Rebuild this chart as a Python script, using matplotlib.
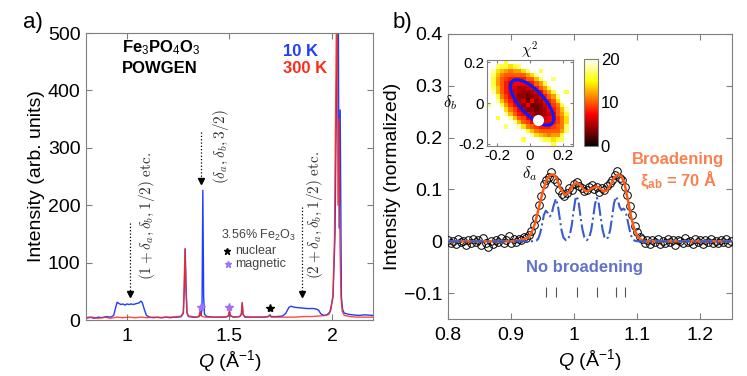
import numpy as np
import matplotlib.pyplot as plt
from matplotlib.patches import Ellipse
from matplotlib.ticker import FuncFormatter

plt.rcParams['font.family'] = ['Liberation Sans', 'DejaVu Sans']
plt.rcParams['mathtext.fontset'] = 'custom'
plt.rcParams['mathtext.rm'] = 'Liberation Sans'
plt.rcParams['mathtext.it'] = 'Liberation Sans:italic'
plt.rcParams['mathtext.bf'] = 'Liberation Sans:bold'

# ---- panel a: POWGEN patterns (Q, intensity) ----
q_10k = [0.80, 0.82, 0.84, 0.86, 0.88, 0.90, 0.92, 0.935, 0.945, 0.952, 0.96, 0.97, 0.98,
         0.99, 1.00, 1.01, 1.02, 1.03, 1.04, 1.05, 1.06, 1.068, 1.075, 1.085, 1.095, 1.11,
         1.13, 1.15, 1.17, 1.19, 1.21, 1.23, 1.25, 1.265, 1.275, 1.280, 1.284, 1.288, 1.293,
         1.30, 1.32, 1.34, 1.352, 1.357, 1.361, 1.366, 1.370, 1.374, 1.378, 1.39, 1.42, 1.45,
         1.48, 1.495, 1.50, 1.505, 1.52, 1.55, 1.558, 1.562, 1.566, 1.575, 1.60, 1.63, 1.66,
         1.69, 1.698, 1.703, 1.73, 1.76, 1.775, 1.79, 1.80, 1.82, 1.85, 1.88, 1.91, 1.925,
         1.935, 1.945, 1.96, 1.975, 1.99, 2.005, 2.015, 2.022, 2.030, 2.035, 2.040, 2.046,
         2.052, 2.06, 2.08, 2.10, 2.13, 2.16, 2.20]
i_10k = [4, 5, 3, 5, 4, 6, 5, 8, 22, 31, 29, 27, 28,
         26, 28, 27, 28, 27, 28, 29, 30, 33, 30, 18, 8, 5,
         4, 5, 4, 5, 4, 5, 5, 6, 12, 60, 124, 60, 12,
         6, 5, 5, 6, 14, 8, 20, 226, 40, 10, 6, 5, 5,
         5, 7, 15, 7, 5, 6, 10, 30, 10, 5, 5, 5, 5,
         6, 9, 6, 6, 7, 12, 22, 24, 22, 21, 20, 20, 19,
         17, 11, 8, 9, 14, 40, 150, 400, 620, 160, 366, 40,
         18, 12, 10, 9, 8, 9, 8]

q_300k = [0.80, 0.83, 0.86, 0.89, 0.92, 0.95, 0.98, 1.01, 1.04, 1.07, 1.10, 1.13, 1.16,
          1.19, 1.22, 1.25, 1.265, 1.275, 1.279, 1.283, 1.287, 1.292, 1.30, 1.32, 1.34,
          1.352, 1.357, 1.362, 1.38, 1.42, 1.46, 1.49, 1.496, 1.50, 1.505, 1.52, 1.55,
          1.558, 1.562, 1.566, 1.575, 1.60, 1.64, 1.68, 1.697, 1.703, 1.74, 1.78, 1.82,
          1.86, 1.90, 1.94, 1.97, 1.985, 1.995, 2.005, 2.012, 2.018, 2.024, 2.029, 2.034,
          2.039, 2.044, 2.05, 2.06, 2.09, 2.12, 2.15, 2.20]
i_300k = [3, 5, 3, 5, 3, 5, 4, 5, 4, 5, 4, 5, 4,
          5, 5, 6, 7, 14, 60, 124, 60, 14, 7, 6, 5,
          7, 16, 7, 5, 5, 5, 6, 9, 16, 8, 5, 6,
          10, 30, 10, 6, 5, 5, 5, 8, 5, 5, 5, 5,
          6, 6, 7, 8, 10, 18, 45, 140, 380, 620, 200, 350,
          130, 40, 15, 8, 6, 5, 5, 5]

arrow_q = [1.015, 1.363, 1.856]
arrow_top = [169, 327, 197]
arrow_bottom = [46, 243, 46]
hkl_labels = [r'$(1+\delta_a,\delta_b,1/2)\ \mathrm{etc.}$',
              r'$(\delta_a,\delta_b,3/2)$',
              r'$(2+\delta_a,\delta_b,1/2)\ \mathrm{etc.}$']
hkl_q = [1.10, 1.46, 1.917]
hkl_i = [181, 303, 183]

magnetic_q = [1.359, 1.500]
magnetic_i = [23, 23]
nuclear_q = [1.699]
nuclear_i = [21]

# ---- panel b: cut through (1+da, db, 1/2) ----
q_data = np.round(0.800 + 0.004 * np.arange(113), 3)
i_data = [0.003, -0.004, 0.001, -0.006, 0.004, -0.002, 0.000, -0.007, 0.003, -0.003,
          0.005, -0.001, 0.002, -0.008, 0.006, -0.004, -0.012, 0.001, -0.005, 0.003,
          -0.002, 0.007, -0.004, 0.002, 0.010, -0.003, 0.004, -0.001, 0.005, 0.002,
          0.009, 0.006, 0.012, 0.020, 0.031, 0.045, 0.070, 0.088, 0.110, 0.118,
          0.124, 0.133, 0.121, 0.115, 0.098, 0.091, 0.087, 0.094, 0.102, 0.098,
          0.110, 0.114, 0.106, 0.102, 0.097, 0.099, 0.104, 0.108, 0.101, 0.105,
          0.096, 0.103, 0.099, 0.107, 0.112, 0.118, 0.127, 0.135, 0.122, 0.119,
          0.104, 0.090, 0.068, 0.050, 0.030, 0.017, 0.008, 0.004, -0.003, 0.002,
          -0.005, 0.003, -0.002, 0.004, -0.006, 0.001, -0.003, 0.005, -0.001, 0.002,
          -0.007, 0.003, 0.000, -0.004, 0.006, -0.002, 0.001, -0.005, 0.004, -0.001,
          0.002, -0.006, 0.003, -0.002, 0.005, -0.003, 0.001, -0.004, 0.002, -0.001,
          0.004, -0.003, 0.001]

q_fit = [0.80, 0.90, 0.915, 0.925, 0.932, 0.938, 0.944, 0.950, 0.956, 0.962, 0.967, 0.972,
         0.978, 0.985, 0.992, 0.998, 1.004, 1.010, 1.016, 1.021, 1.028, 1.035, 1.041, 1.047,
         1.052, 1.058, 1.064, 1.070, 1.075, 1.080, 1.085, 1.090, 1.095, 1.100, 1.106, 1.112,
         1.25]
i_fit = [0, 0, 0.002, 0.006, 0.015, 0.035, 0.065, 0.095, 0.118, 0.128, 0.129, 0.122,
         0.102, 0.090, 0.095, 0.108, 0.113, 0.108, 0.098, 0.096, 0.102, 0.106, 0.102, 0.096,
         0.098, 0.110, 0.124, 0.129, 0.125, 0.110, 0.080, 0.048, 0.024, 0.010, 0.003, 0,
         0]

q_sharp = [0.80, 0.935, 0.940, 0.943, 0.946, 0.949, 0.952, 0.955, 0.958, 0.961, 0.964, 0.967,
           0.971, 0.974, 0.977, 0.980, 0.983, 0.987, 0.990, 0.993, 0.996, 0.999, 1.002, 1.004,
           1.007, 1.010, 1.013, 1.016, 1.020, 1.024, 1.027, 1.030, 1.033, 1.036, 1.039, 1.042,
           1.045, 1.048, 1.051, 1.054, 1.057, 1.060, 1.063, 1.066, 1.069, 1.072, 1.075, 1.078,
           1.080, 1.083, 1.086, 1.089, 1.092, 1.096, 1.100, 1.25]
i_sharp = [0, 0, 0.001, 0.005, 0.015, 0.032, 0.051, 0.059, 0.055, 0.048, 0.051, 0.067,
           0.082, 0.070, 0.045, 0.021, 0.007, 0.002, 0.003, 0.012, 0.030, 0.058, 0.082, 0.087,
           0.075, 0.048, 0.023, 0.008, 0.002, 0.008, 0.022, 0.046, 0.072, 0.084, 0.072, 0.046,
           0.022, 0.008, 0.004, 0.008, 0.022, 0.046, 0.073, 0.086, 0.080, 0.066, 0.060, 0.063,
           0.061, 0.050, 0.032, 0.015, 0.005, 0.001, 0, 0]

bragg_q = [0.955, 0.971, 1.004, 1.036, 1.066, 1.080]

# ---- inset: chi^2 map over (da, db), rows from db = +0.21 down to -0.21 ----
chi2 = [
    [20, 20, 20, 20, 16, 20, 20, 20, 20, 20, 20, 20, 20, 20, 20, 20, 20, 20, 20, 20],
    [20, 20, 17, 16, 16, 14, 16, 17, 20, 20, 20, 20, 20, 20, 20, 20, 20, 20, 20, 20],
    [20, 18, 14, 13, 12, 11, 12, 12, 14, 17, 20, 20, 16, 20, 20, 20, 20, 20, 20, 20],
    [20, 17, 13, 11, 10, 10, 10, 10, 10, 12, 14, 18, 20, 20, 20, 20, 20, 20, 20, 20],
    [20, 16, 12, 10, 9, 8, 8, 8, 8, 10, 10, 13, 17, 20, 20, 17, 20, 20, 20, 20],
    [20, 16, 12, 10, 8, 7, 7, 7, 7, 7, 8, 10, 12, 16, 20, 20, 20, 20, 20, 20],
    [20, 17, 13, 10, 8, 7, 6, 5, 5, 6, 7, 8, 10, 12, 16, 20, 20, 20, 20, 20],
    [20, 18, 13, 10, 8, 7, 6, 5, 4, 4, 5, 6, 7, 10, 12, 16, 20, 20, 16, 20],
    [20, 20, 16, 11, 9, 7, 6, 4, 4, 3, 4, 5, 6, 8, 10, 12, 17, 20, 20, 20],
    [20, 20, 18, 13, 10, 8, 6, 5, 6, 3, 7, 4, 5, 7, 8, 10, 14, 20, 20, 20],
    [17, 20, 20, 16, 12, 9, 7, 6, 4, 7, 3, 3, 4, 6, 7, 9, 11, 16, 20, 20],
    [20, 20, 20, 20, 14, 11, 9, 7, 5, 4, 4, 3, 4, 5, 7, 8, 10, 13, 18, 20],
    [20, 20, 20, 20, 18, 13, 10, 8, 7, 6, 5, 4, 4, 5, 6, 7, 10, 12, 16, 20],
    [20, 20, 16, 20, 20, 18, 13, 10, 9, 7, 6, 5, 5, 6, 7, 7, 9, 11, 14, 20],
    [20, 20, 20, 20, 20, 20, 18, 13, 10, 9, 7, 7, 7, 7, 7, 8, 9, 11, 14, 20],
    [20, 20, 20, 20, 17, 20, 20, 18, 14, 11, 10, 9, 8, 8, 8, 9, 10, 11, 17, 20],
    [20, 20, 20, 20, 20, 20, 20, 20, 20, 16, 13, 11, 10, 10, 10, 10, 10, 12, 17, 20],
    [20, 20, 20, 20, 20, 20, 20, 20, 20, 20, 18, 14, 13, 12, 11, 12, 12, 16, 20, 20],
    [20, 20, 20, 20, 20, 20, 20, 20, 16, 20, 20, 20, 18, 16, 16, 14, 16, 17, 20, 20],
    [20, 20, 20, 20, 20, 20, 20, 20, 20, 20, 20, 20, 20, 20, 20, 16, 20, 20, 20, 20],
]
best_da, best_db = 0.047, -0.081

GRAY = '#7f7f7f'
BLUE = '#1f3dff'
RED = '#ff2a1a'
ORANGE = '#ff5a14'
DASHBLUE = '#3a5cc8'


def style_axes(ax, size=14):
    for s in ax.spines.values():
        s.set_color(GRAY)
        s.set_linewidth(0.8)
    ax.tick_params(direction='in', top=True, right=True, color=GRAY,
                   labelsize=size, length=4, width=0.8)
    ax.tick_params(axis='x', pad=6)
    ax.tick_params(axis='y', pad=4)


fig = plt.figure(figsize=(7.47, 3.76), dpi=100)

# ------------------------- panel a -------------------------
axa = fig.add_axes([0.1151, 0.1489, 0.3842, 0.7633])
axa.plot(q_10k, i_10k, color=BLUE, lw=1.0)
axa.plot(q_300k, i_300k, color=RED, lw=1.0, alpha=0.85)
axa.set_xlim(0.8, 2.2)
axa.set_ylim(0, 500)
axa.set_xticks([1, 1.5, 2])
axa.set_xticklabels(['1', '1.5', '2'])
axa.set_yticks([0, 100, 200, 300, 400, 500])
style_axes(axa)
axa.set_xlabel(r'$Q$ (Å$^{-1}$)', fontsize=14, labelpad=2)
axa.set_ylabel('Intensity (arb. units)', fontsize=14, labelpad=2)

for q, top, bot in zip(arrow_q, arrow_top, arrow_bottom):
    axa.plot([q, q], [top, bot + 4], ls=':', color='k', lw=0.9)
    axa.plot(q, bot, marker='v', ms=4, color='k')
for txt, q, i in zip(hkl_labels, hkl_q, hkl_i):
    axa.text(q, i, txt, rotation=90, ha='center', va='center', fontsize=11,
             math_fontfamily='cm', color='#333333')

axa.plot(magnetic_q, magnetic_i, ls='none', marker='*', ms=6, color='#a070ff')
axa.plot(nuclear_q, nuclear_i, ls='none', marker='*', ms=6, color='k')
axa.text(1.461, 148, r'3.56% Fe$_2$O$_3$', fontsize=9, color='#444444', va='center')
axa.plot(1.49, 120, marker='*', ms=5, color='k')
axa.text(1.53, 120, 'nuclear', fontsize=9, color='#444444', va='center')
axa.plot(1.495, 97, marker='*', ms=5, color='#a070ff')
axa.text(1.53, 97, 'magnetic', fontsize=9, color='#444444', va='center')

axa.text(0.125, 0.948, r'Fe$_3$PO$_4$O$_3$', transform=axa.transAxes, fontsize=12,
         fontweight='bold', va='center', ha='left')
axa.text(0.125, 0.878, 'POWGEN', transform=axa.transAxes, fontsize=12,
         fontweight='bold', va='center', ha='left')
axa.text(0.686, 0.937, '10 K', transform=axa.transAxes, fontsize=12,
         fontweight='bold', color=BLUE, va='center')
axa.text(0.686, 0.875, '300 K', transform=axa.transAxes, fontsize=12,
         fontweight='bold', color=RED, va='center')
fig.text(0.031, 0.94, 'a)', fontsize=16, va='center')

# ------------------------- panel b -------------------------
axb = fig.add_axes([0.5997, 0.1516, 0.3802, 0.758])
axb.plot(q_data, i_data, ls='none', marker='o', ms=5.5, mfc='none', mec='k',
         mew=0.7, zorder=3)
axb.plot(q_fit, i_fit, color=ORANGE, lw=1.8, zorder=4)
axb.plot(q_sharp, i_sharp, color=DASHBLUE, lw=1.5, ls='-.', zorder=5)
axb.vlines(bragg_q, -0.108, -0.088, color='#555555', lw=0.8)
axb.set_xlim(0.8, 1.25)
axb.set_ylim(-0.15, 0.4)
axb.set_xticks([0.8, 0.9, 1.0, 1.1, 1.2])
axb.set_yticks([-0.1, 0, 0.1, 0.2, 0.3, 0.4])
axb.xaxis.set_major_formatter(FuncFormatter(lambda v, p: f'{v:g}'))
axb.yaxis.set_major_formatter(FuncFormatter(lambda v, p: f'{v:g}'.replace('-', '\u2212')))
style_axes(axb)
axb.set_xlabel(r'$Q$ (Å$^{-1}$)', fontsize=14, labelpad=2)
axb.set_ylabel('Intensity (normalized)', fontsize=14, labelpad=2)
axb.text(1.165, 0.158, 'Broadening', color='#fb8050', fontsize=12, fontweight='bold',
         ha='center', va='center')
axb.text(1.166, 0.119, r'$\mathbf{\xi_{ab}}$ = 70 Å', color='#fb8050', fontsize=12,
         fontweight='bold', ha='center', va='center')
axb.text(1.017, -0.05, 'No broadening', color='#6272c8', fontsize=12, fontweight='bold',
         ha='center', va='center')
fig.text(0.525, 0.94, 'b)', fontsize=16, va='center')

# ------------------------- inset -------------------------
axi = fig.add_axes([0.652, 0.6117, 0.1151, 0.2287])
im = axi.imshow(np.array(chi2), cmap='hot', vmin=0, vmax=20, origin='upper',
                extent=[-0.26, 0.26, -0.21, 0.21], aspect='auto', interpolation='nearest')
axi.add_patch(Ellipse((0.523, 0.506), 0.674, 0.28, angle=-47, transform=axi.transAxes,
                      fill=False, ec='#0a1cff', lw=2.3))
axi.plot(best_da, best_db, marker='o', ms=7, color='white', mec='white')
axi.set_xlim(-0.26, 0.26)
axi.set_ylim(-0.21, 0.21)
axi.set_xticks([-0.2, 0, 0.2])
axi.set_yticks([-0.2, 0, 0.2])
axi.xaxis.set_major_formatter(FuncFormatter(lambda v, p: f'{v:g}'))
axi.yaxis.set_major_formatter(FuncFormatter(lambda v, p: f'{v:g}'))
style_axes(axi, size=11)
axi.tick_params(length=2.5, pad=2)
axi.set_title(r'$\chi^2$', fontsize=11, math_fontfamily='cm', pad=3)
axi.set_xlabel(r'$\delta_a$', fontsize=12, math_fontfamily='cm', labelpad=1)
axi.set_ylabel(r'$\delta_b$', fontsize=12, math_fontfamily='cm', rotation=0,
               labelpad=6, va='center')

axc = fig.add_axes([0.7818, 0.6117, 0.0187, 0.2314])
cb = fig.colorbar(im, cax=axc, ticks=[0, 10, 20])
cb.outline.set_edgecolor(GRAY)
cb.outline.set_linewidth(0.8)
axc.tick_params(labelsize=12, length=0, pad=2)

fig.savefig('out.png', dpi=100)
